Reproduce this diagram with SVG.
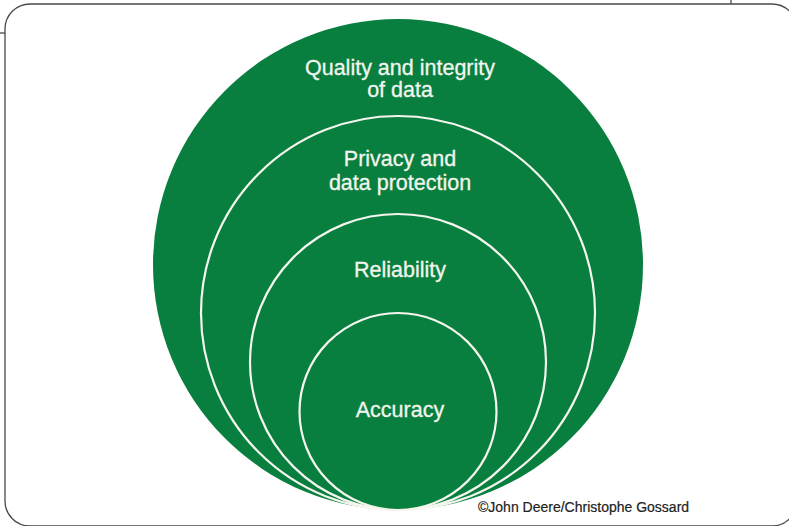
<svg xmlns="http://www.w3.org/2000/svg" width="789" height="526" viewBox="0 0 789 526">
<style>
.frame{fill:none;stroke:#4a4a4a;stroke-width:1.3}
.ring{fill:#087f3e;stroke:#f4f6ee;stroke-width:2.2}
.lbl{font-family:"Liberation Sans",Arial,sans-serif;font-size:21.5px;fill:#f2f5ee;text-anchor:middle;stroke:#f2f5ee;stroke-width:0.3}
.credit{font-family:"Liberation Sans",Arial,sans-serif;font-size:14px;fill:#222;stroke:#222;stroke-width:0.2}
</style>
<rect width="789" height="526" fill="#fff"/>
<g id="frame">
<rect class="frame" x="5" y="4" width="792" height="522" rx="25"/>
<line class="frame" x1="0" y1="33" x2="5" y2="33"/>
<line class="frame" x1="731" y1="0" x2="731" y2="4"/>
</g>
<g id="outer">
<ellipse cx="398" cy="264.5" rx="245" ry="245.5" fill="#087f3e"/>
<text class="lbl" x="400" y="75">Quality and integrity</text>
<text class="lbl" x="400" y="97">of data</text>
</g>
<g id="privacy">
<circle class="ring" cx="398" cy="313" r="197"/>
<text class="lbl" x="400" y="166">Privacy and</text>
<text class="lbl" x="400" y="190">data protection</text>
</g>
<g id="reliability">
<circle class="ring" cx="398" cy="362" r="148"/>
<text class="lbl" x="400" y="277">Reliability</text>
</g>
<g id="accuracy">
<circle class="ring" cx="398" cy="411.5" r="98.5"/>
<text class="lbl" x="400" y="417">Accuracy</text>
</g>
<g id="connectors"/>
<text class="credit" x="478" y="512">©John Deere/Christophe Gossard</text>
</svg>
